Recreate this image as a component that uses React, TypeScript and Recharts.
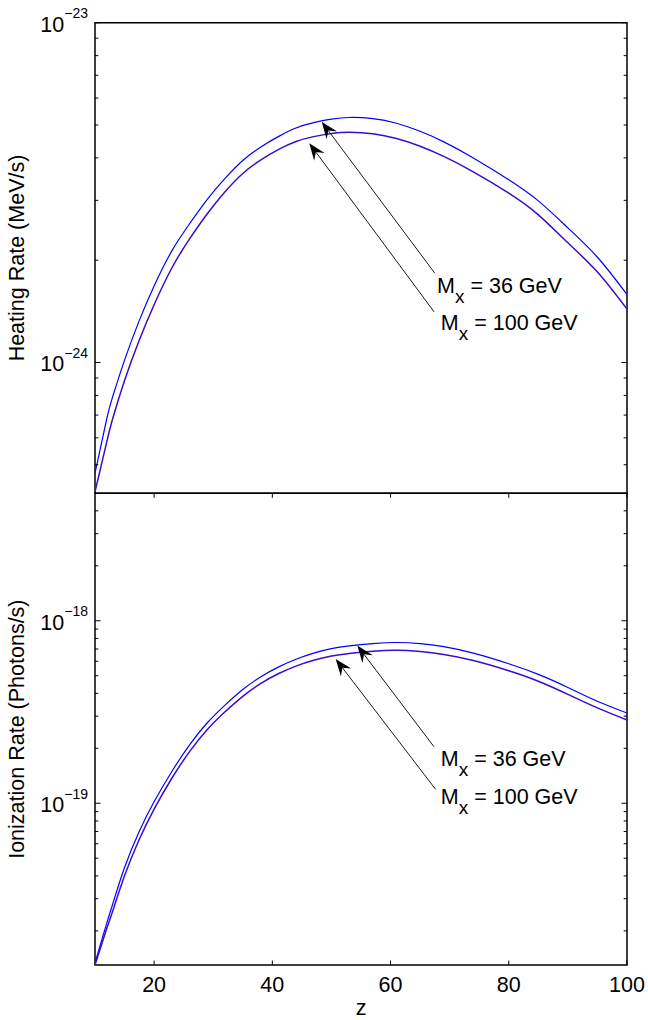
import React from "react";
import { LineChart, Line, XAxis, YAxis, ReferenceArea, ReferenceLine, ReferenceDot } from "recharts";

const FONT = '"Liberation Sans", Arial, Helvetica, sans-serif';

// redshift grid shared by all curves
const zGrid = [10, 12, 13, 15, 17.5, 20, 23, 26, 29, 32, 35, 38, 41, 44, 47, 50, 53, 57, 61, 65, 69, 74, 80, 85, 90, 95, 100];

// heating rate (MeV/s)
const heat36 = [
  4.72e-25, 6.84e-25, 7.94e-25, 1.016e-24, 1.33e-24, 1.68e-24, 2.13e-24, 2.56e-24, 3.02e-24, 3.48e-24,
  3.93e-24, 4.3e-24, 4.62e-24, 4.9e-24, 5.08e-24, 5.2e-24, 5.26e-24, 5.22e-24, 5.06e-24, 4.79e-24,
  4.46e-24, 4.0e-24, 3.45e-24, 2.99e-24, 2.49e-24, 2.04e-24, 1.585e-24,
];
const heat100 = [
  4.16e-25, 5.85e-25, 6.84e-25, 8.85e-25, 1.164e-24, 1.479e-24, 1.897e-24, 2.31e-24, 2.74e-24, 3.18e-24,
  3.6e-24, 3.94e-24, 4.23e-24, 4.47e-24, 4.62e-24, 4.72e-24, 4.76e-24, 4.71e-24, 4.56e-24, 4.33e-24,
  4.04e-24, 3.64e-24, 3.15e-24, 2.72e-24, 2.25e-24, 1.845e-24, 1.435e-24,
];

// ionization rate (photons/s)
const ion36 = [
  1.334e-20, 2.213e-20, 2.805e-20, 4.446e-20, 7.03e-20, 1.019e-19, 1.493e-19, 2.089e-19, 2.761e-19, 3.45e-19,
  4.198e-19, 4.92e-19, 5.57e-19, 6.15e-19, 6.65e-19, 7.03e-19, 7.28e-19, 7.5e-19, 7.6e-19, 7.5e-19,
  7.21e-19, 6.64e-19, 5.81e-19, 5.08e-19, 4.31e-19, 3.62e-19, 3.12e-19,
];
const ion100 = [
  1.3e-20, 2.065e-20, 2.57e-20, 4.01e-20, 6.35e-20, 9.29e-20, 1.371e-19, 1.919e-19, 2.535e-19, 3.17e-19,
  3.855e-19, 4.52e-19, 5.12e-19, 5.64e-19, 6.07e-19, 6.4e-19, 6.62e-19, 6.81e-19, 6.89e-19, 6.78e-19,
  6.53e-19, 6.05e-19, 5.32e-19, 4.66e-19, 3.95e-19, 3.33e-19, 2.86e-19,
];

const xDomain = [10, 100];
const xTicks = [20, 40, 60, 80, 100];

const heatDomain = [4.12e-25, 1e-23];
const heatTicks = [
  5e-25, 6e-25, 7e-25, 8e-25, 9e-25, 1e-24,
  2e-24, 3e-24, 4e-24, 5e-24, 6e-24, 7e-24, 8e-24, 9e-24, 1e-23,
];

const ionDomain = [1.3e-20, 4.99e-18];
const ionTicks = [
  2e-20, 3e-20, 4e-20, 5e-20, 6e-20, 7e-20, 8e-20, 9e-20, 1e-19,
  2e-19, 3e-19, 4e-19, 5e-19, 6e-19, 7e-19, 8e-19, 9e-19, 1e-18,
  2e-18, 3e-18, 4e-18,
];

// arrow annotations: tip on the curve, tail near the text
const heatNotes = [
  { label: "36 GeV", tipZ: 48.35, tipV: 5.11e-24, tailZ: 67.5, tailV: 1.83e-24, textZ: 67.86, textV: 1.6e-24 },
  { label: "100 GeV", tipZ: 46.25, tipV: 4.42e-24, tailZ: 67.35, tailV: 1.41e-24, textZ: 68.5, textV: 1.25e-24 },
];
const ionNotes = [
  { label: "36 GeV", tipZ: 54.38, tipV: 7.31e-19, tailZ: 67.35, tailV: 2.04e-19, textZ: 68.5, textV: 1.61e-19 },
  { label: "100 GeV", tipZ: 50.72, tipV: 6.17e-19, tailZ: 67.64, tailV: 1.19e-19, textZ: 68.5, textV: 9.86e-20 },
];

const heatData = zGrid.map((z, i) => ({ z, m36: heat36[i], m100: heat100[i] }));
const ionData = zGrid.map((z, i) => ({ z, m36: ion36[i], m100: ion100[i] }));

const isMajor = (v: number) => {
  const l = Math.log10(v);
  return Math.abs(l - Math.round(l)) < 1e-6;
};

const YTick = (props: any) => {
  const { x, y, payload, side } = props;
  const v = payload.value;
  const major = isMajor(v);
  const len = major ? 5.5 : 3.3;
  const dir = side === "left" ? 1 : -1;
  const e = Math.round(Math.log10(v));
  return (
    <g>
      <line x1={x} x2={x + dir * len} y1={y} y2={y} stroke="#000" strokeWidth={1} />
      {major && side === "left" && (
        <text x={x - 7} y={y + 9} textAnchor="end" fontFamily={FONT} fontSize={21.5} fill="#000">
          10
          <tspan dy={-13.4} fontSize={14}>{"\u2212" + Math.abs(e)}</tspan>
        </text>
      )}
    </g>
  );
};

const XTickBottom = (props: any) => {
  const { x, y, payload } = props;
  return (
    <g>
      <line x1={x} x2={x} y1={y} y2={y - 4.5} stroke="#000" strokeWidth={1} />
      <text x={x} y={y + 27} textAnchor="middle" fontFamily={FONT} fontSize={21.5} fill="#000">
        {payload.value}
      </text>
    </g>
  );
};

const XTickTop = (props: any) => {
  const { x, y } = props;
  return <line x1={x} x2={x} y1={y} y2={y + 4.5} stroke="#000" strokeWidth={1} />;
};

const yTitle = (text: string) => (props: any) => {
  const vb = props.viewBox;
  const cx = vb.x + 24;
  const cy = vb.y + vb.height / 2;
  return (
    <text x={cx} y={cy} transform={`rotate(-90 ${cx} ${cy})`} textAnchor="middle" fontFamily={FONT} fontSize={21.5} fill="#000">
      {text}
    </text>
  );
};

const xTitle = (props: any) => {
  const vb = props.viewBox;
  return (
    <text x={vb.x + vb.width / 2} y={vb.y + 50} textAnchor="middle" fontFamily={FONT} fontSize={21.5} fill="#000">
      z
    </text>
  );
};

const Arrow = (p: any) => {
  const { x1, y1, x2, y2 } = p;
  const dx = x2 - x1;
  const dy = y2 - y1;
  const d = Math.hypot(dx, dy) || 1;
  const ux = dx / d;
  const uy = dy / d;
  const nx = -uy;
  const ny = ux;
  const L = 17;
  const W = 6.5;
  const N = 11;
  const head =
    `M${x1},${y1} L${x1 + ux * L + nx * W},${y1 + uy * L + ny * W} ` +
    `L${x1 + ux * N},${y1 + uy * N} L${x1 + ux * L - nx * W},${y1 + uy * L - ny * W} Z`;
  return (
    <g>
      <line x1={x1 + ux * N} y1={y1 + uy * N} x2={x2} y2={y2} stroke="#000" strokeWidth={0.9} />
      <path d={head} fill="#000" />
    </g>
  );
};

const noteText = (label: string) => (p: any) => (
  <text x={p.cx} y={p.cy} fontFamily={FONT} fontSize={21.5} fill="#000" style={{ whiteSpace: "pre" }}>
    M
    <tspan dy={10} fontSize={19}>x</tspan>
    <tspan dy={-10}>{" = " + label}</tspan>
  </text>
);

const renderNotes = (notes: typeof heatNotes) =>
  notes.flatMap((n, i) => [
    <ReferenceLine
      key={`a${i}`}
      segment={[{ x: n.tipZ, y: n.tipV }, { x: n.tailZ, y: n.tailV }]}
      shape={Arrow}
      stroke="#000"
    />,
    <ReferenceDot key={`t${i}`} x={n.textZ} y={n.textV} shape={noteText(n.label)} />,
  ]);

const BLUE = "#0000ff";
const PURPLE = "#3a0cd0";

export default function App() {
  return (
    <div style={{ position: "absolute", left: 0, top: 0, width: 648, height: 1020, background: "#fff" }}>
      <div style={{ position: "absolute", left: 0, top: 0 }}>
        <LineChart width={648} height={500} data={heatData} margin={{ top: 22.7, right: 0, bottom: 6.7, left: 0 }}>
          <XAxis dataKey="z" type="number" domain={xDomain} allowDataOverflow hide />
          <YAxis
            type="number"
            scale="log"
            domain={heatDomain}
            allowDataOverflow
            ticks={heatTicks}
            interval={0}
            width={95}
            tickSize={0}
            tickMargin={0}
            axisLine={false}
            tickLine={false}
            tick={(p: any) => <YTick {...p} side="left" />}
            label={{ content: yTitle("Heating Rate (MeV/s)") }}
          />
          <YAxis
            yAxisId="r"
            orientation="right"
            type="number"
            scale="log"
            domain={heatDomain}
            allowDataOverflow
            ticks={heatTicks}
            interval={0}
            width={21}
            tickSize={0}
            tickMargin={0}
            axisLine={false}
            tickLine={false}
            tick={(p: any) => <YTick {...p} side="right" />}
          />
          <Line dataKey="m36" type="natural" stroke={BLUE} strokeWidth={1.2} dot={false} isAnimationActive={false} />
          <Line dataKey="m100" type="natural" stroke={PURPLE} strokeWidth={1.5} dot={false} isAnimationActive={false} />
          {renderNotes(heatNotes)}
          <ReferenceArea x1={xDomain[0]} x2={xDomain[1]} y1={heatDomain[0]} y2={heatDomain[1]} fill="none" stroke="#000" strokeWidth={1.5} />
        </LineChart>
      </div>
      <div style={{ position: "absolute", left: 0, top: 470 }}>
        <LineChart width={648} height={550} data={ionData} margin={{ top: 22.3, right: 0, bottom: 0, left: 0 }}>
          <XAxis
            dataKey="z"
            type="number"
            domain={xDomain}
            allowDataOverflow
            ticks={xTicks}
            interval={0}
            height={55}
            tickSize={0}
            tickMargin={0}
            axisLine={false}
            tickLine={false}
            tick={(p: any) => <XTickBottom {...p} />}
            label={{ content: xTitle }}
          />
          <XAxis
            xAxisId="t"
            orientation="top"
            dataKey="z"
            type="number"
            domain={xDomain}
            allowDataOverflow
            ticks={xTicks}
            interval={0}
            height={1}
            tickSize={0}
            tickMargin={0}
            axisLine={false}
            tickLine={false}
            tick={(p: any) => <XTickTop {...p} />}
          />
          <YAxis
            type="number"
            scale="log"
            domain={ionDomain}
            allowDataOverflow
            ticks={ionTicks}
            interval={0}
            width={95}
            tickSize={0}
            tickMargin={0}
            axisLine={false}
            tickLine={false}
            tick={(p: any) => <YTick {...p} side="left" />}
            label={{ content: yTitle("Ionization Rate (Photons/s)") }}
          />
          <YAxis
            yAxisId="r"
            orientation="right"
            type="number"
            scale="log"
            domain={ionDomain}
            allowDataOverflow
            ticks={ionTicks}
            interval={0}
            width={21}
            tickSize={0}
            tickMargin={0}
            axisLine={false}
            tickLine={false}
            tick={(p: any) => <YTick {...p} side="right" />}
          />
          <Line dataKey="m36" type="natural" stroke={BLUE} strokeWidth={1.2} dot={false} isAnimationActive={false} />
          <Line dataKey="m100" type="natural" stroke={PURPLE} strokeWidth={1.5} dot={false} isAnimationActive={false} />
          {renderNotes(ionNotes)}
          <ReferenceArea x1={xDomain[0]} x2={xDomain[1]} y1={ionDomain[0]} y2={ionDomain[1]} fill="none" stroke="#000" strokeWidth={1.5} />
        </LineChart>
      </div>
    </div>
  );
}
